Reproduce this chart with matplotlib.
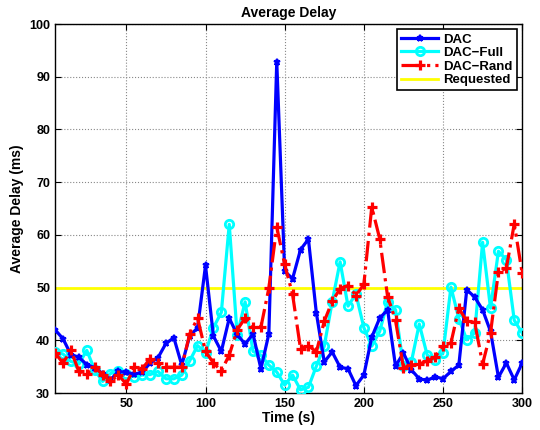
import numpy as np
import matplotlib
matplotlib.use("Agg")
import matplotlib.pyplot as plt

time_s = list(range(5, 301, 5))
dac = [42.0, 40.3, 37.3, 36.8, 35.4, 34.8, 33.7, 32.5, 34.1, 33.9,
       33.6, 33.9, 35.7, 36.7, 39.4, 40.5, 35.3, 40.8, 42.4, 54.2,
       40.8, 37.9, 44.2, 41.1, 39.3, 41.2, 34.6, 41.2, 92.9, 53.1,
       51.7, 57.2, 59.2, 45.2, 35.9, 37.8, 34.9, 34.6, 31.4, 33.4,
       40.6, 44.2, 45.8, 35.1, 37.6, 34.4, 32.7, 32.4, 33.1, 32.7,
       34.1, 35.3, 49.6, 48.2, 45.8, 41.7, 33.0, 35.7, 32.5, 35.7]
dac_full = [37.8, 37.4, 36.0, 35.5, 38.1, 34.4, 32.2, 33.7, 34.1, 33.7,
            33.1, 33.4, 33.5, 34.1, 32.7, 32.7, 33.4, 36.1, 39.0, 37.6,
            42.4, 45.3, 62.0, 41.0, 47.3, 37.9, 37.2, 35.3, 34.0, 31.5,
            33.4, 30.6, 31.1, 35.1, 38.9, 47.3, 54.9, 46.5, 48.8, 42.4,
            38.9, 41.7, 47.3, 45.8, 35.1, 35.9, 43.1, 37.2, 36.3, 37.6,
            50.1, 44.1, 40.1, 41.4, 58.6, 46.1, 56.9, 55.3, 43.8, 41.4]
dac_rand = [37.6, 35.7, 38.1, 34.1, 33.7, 34.9, 33.5, 32.2, 33.4, 31.7,
            34.9, 34.6, 36.5, 35.7, 34.9, 34.9, 34.9, 41.2, 44.2, 37.9,
            35.7, 34.2, 37.2, 42.0, 44.2, 42.5, 42.5, 49.9, 61.5, 54.4,
            48.7, 38.4, 39.0, 37.8, 43.6, 47.4, 49.8, 50.4, 48.5, 50.6,
            65.3, 59.3, 48.3, 43.8, 34.8, 35.3, 35.5, 36.1, 36.8, 39.0,
            39.5, 46.1, 43.6, 43.4, 35.5, 41.4, 53.0, 53.7, 62.1, 52.7]
requested = 50
x_ticks = [50, 100, 150, 200, 250, 300]
y_ticks = [30, 40, 50, 60, 70, 80, 90, 100]

plt.rcParams['font.family'] = ['Liberation Sans', 'DejaVu Sans']
plt.rcParams['font.weight'] = 'bold'

fig = plt.figure(figsize=(5.4, 4.3), dpi=100)
ax = fig.add_axes([0.102, 0.086, 0.865, 0.858])

ax.plot(time_s, dac, color='#0000ff', lw=2.3, marker='*', ms=5, mew=1.5, label='DAC', zorder=4)
ax.plot(time_s, dac_full, color='#00ffff', lw=2.3, marker='o', ms=6, mfc='none', mew=2, label='DAC\u2212Full', zorder=3)
ax.plot(time_s, dac_rand, color='#ff0000', lw=2.3, ls='-.', marker='+', ms=7, mew=2.3, label='DAC\u2212Rand', zorder=5)
ax.plot([time_s[0], time_s[-1]], [requested, requested], color='#ffff00', lw=2, label='Requested', zorder=2)

ax.set_xlim(5, 300)
ax.set_ylim(30, 100)
ax.set_xticks(x_ticks)
ax.set_yticks(y_ticks)
ax.tick_params(direction='in', top=True, right=True, labelsize=9, length=4)
for lab in ax.get_xticklabels() + ax.get_yticklabels():
    lab.set_fontweight('bold')
ax.grid(True, ls=':', color='#888888', lw=0.8)
for s in ax.spines.values():
    s.set_linewidth(1.0)

ax.set_title('Average Delay', fontsize=10, fontweight='bold', pad=5)
ax.set_xlabel('Time (s)', fontsize=10, fontweight='bold', labelpad=1)
ax.set_ylabel('Average Delay (ms)', fontsize=10, fontweight='bold', labelpad=4)

leg = ax.legend(loc='upper right', fontsize=9.5, fancybox=False, edgecolor='black',
                framealpha=1, borderpad=0.3, labelspacing=0.1, handlelength=2.8,
                handletextpad=0.4, borderaxespad=0.4)
leg.get_frame().set_linewidth(1.2)
for t in leg.get_texts():
    t.set_fontweight('bold')

fig.savefig('out.png', dpi=100)
